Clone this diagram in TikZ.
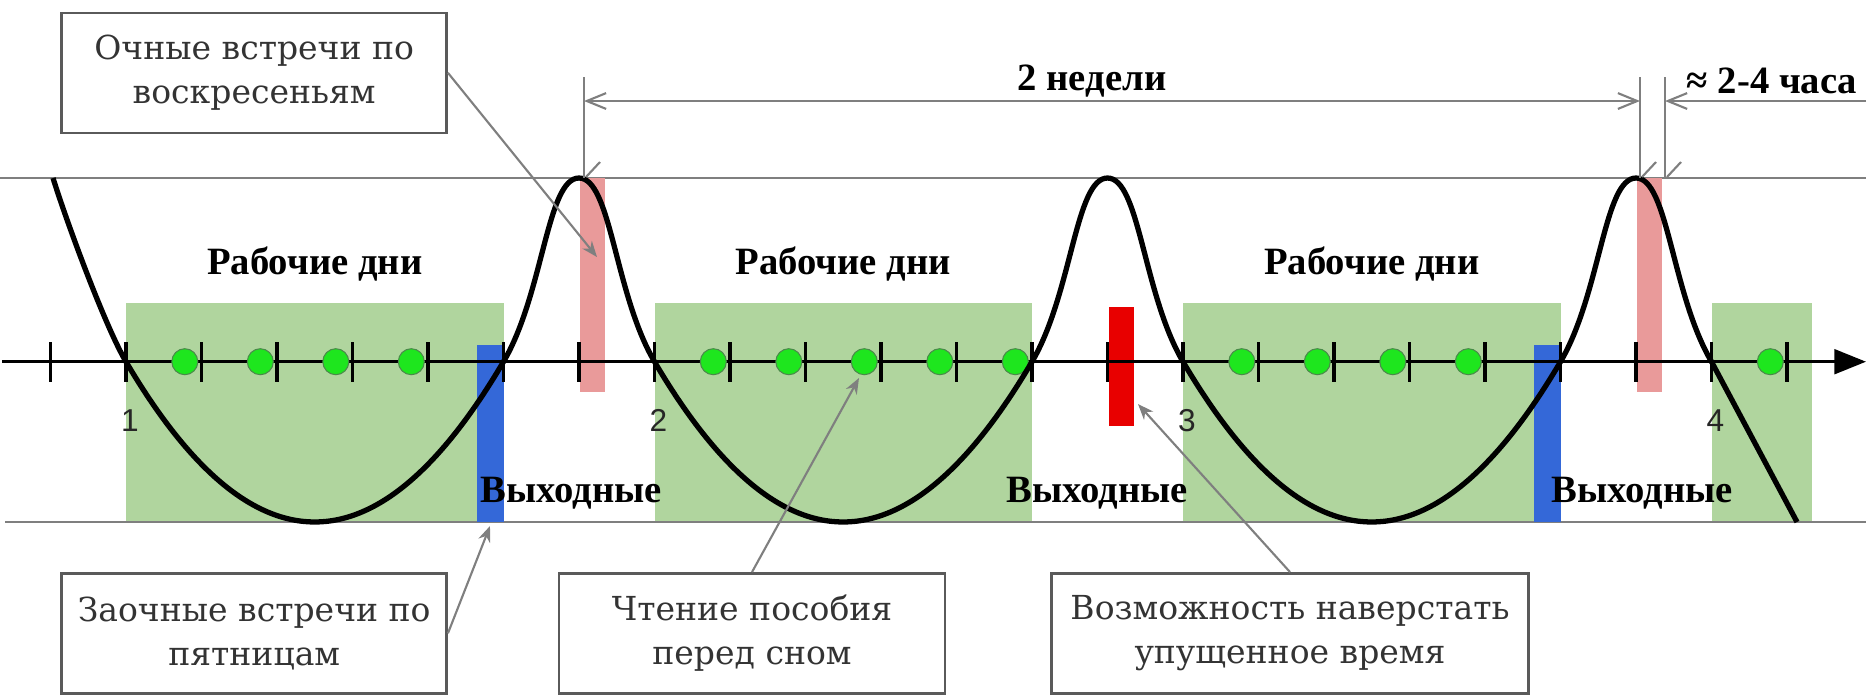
\documentclass[tikz,border=0pt]{standalone}
\usepackage{fontspec}
\setmainfont{Liberation Serif}
\setsansfont{Liberation Sans}
\newfontfamily\notefont{DejaVu Serif}
\usepackage{xcolor}
\usepackage{tikz}
\usetikzlibrary{arrows.meta, positioning, calc}
\definecolor{wkfill}{HTML}{B0D59E}
\definecolor{dotfill}{HTML}{1EE61E}
\definecolor{dotdraw}{HTML}{4A8A4A}
\definecolor{sunfill}{HTML}{E99A9A}
\definecolor{frifill}{HTML}{3468D8}
\definecolor{gapfill}{HTML}{E80000}
\definecolor{guide}{HTML}{7F7F7F}
\definecolor{boxdraw}{HTML}{5A5A5A}
\newcommand\dayo{126}
\newcommand\dayw{75.5}
\tikzset{
  note/.style={rectangle, draw=boxdraw, fill=white, line width=0.7pt, align=center, font=\notefont\fontsize{9.4}{12.6}\selectfont, text=black!80, minimum height=12mm, inner sep=2pt},
  lab/.style={font=\fontsize{11}{13}\selectfont\bfseries, anchor=base},
  num/.style={font=\sffamily\fontsize{9}{10}\selectfont, text=black!85, anchor=base},
  rail/.style={line width=0.6pt, draw=guide},
  dim/.style={rail, {Straight Barb[length=5.5pt,width=4.5pt]}-{Straight Barb[length=5.5pt,width=4.5pt]}},
  leader/.style={line width=0.6pt, draw=guide, -{Stealth[length=4.5pt,width=3.5pt]}},
  axisline/.style={line width=0.9pt, draw=black, -{Triangle[length=9pt,width=7pt]}},
  daytick/.style={line width=0.9pt, draw=black},
  daydot/.style={fill=dotfill, draw=dotdraw, line width=0.3pt},
  wave/.style={line width=1.5pt, draw=black, line join=round},
}

\begin{document}
\begin{tikzpicture}[x=0.1mm, y=-0.1mm]
  \useasboundingbox (0,0) rectangle (1872,697);
  \foreach \w in {0,7,14}
    \fill[wkfill] ({\dayo+\dayw*\w},303) rectangle ({\dayo+\dayw*(\w+5)},522);
  \fill[wkfill] ({\dayo+\dayw*21},303) rectangle (1812,522);
  \draw[rail] (0,178) -- (1866,178);
  \draw[rail] (5,522) -- (1866,522);
  \foreach \k in {6,20}
    \fill[sunfill] ({\dayo+\dayw*\k+1},178) rectangle +(25,214);
  \foreach \k in {5,19}
    \fill[frifill] ({\dayo+\dayw*\k-27},345) rectangle ({\dayo+\dayw*\k},522);
  \fill[gapfill] ({\dayo+\dayw*13+1},307) rectangle +(25,119);
  \draw[axisline] (2,361.7) -- (1866,361.7);
  \foreach \k in {-1,...,22}
    \draw[daytick] ({\dayo+\dayw*\k},342) -- +(0,40);
  \foreach \k in {1,2,3,4,8,9,10,11,12,15,16,17,18,22}
    \draw[daydot] ({\dayo+\dayw*\k-16.7},361.7) circle (1.3mm);
  \foreach \k/\t in {0/1,7/2,14/3,21/4}
    \node[num] (day\t) at ({\dayo+\dayw*\k+4},431) {\t};
  \draw[wave] (53,178) .. controls (68,226) and (106,328) .. ({\dayo},361.7)
    \foreach \w in {0,7,14} {
      .. controls ({\dayo+\dayw*\w+125.8},575.4) and ({\dayo+\dayw*(\w+5)-125.8},575.4) .. ({\dayo+\dayw*(\w+5)},361.7)
      .. controls ({\dayo+\dayw*(\w+5)+40},293.7) and ({\dayo+\dayw*(\w+6)-32},178) .. ({\dayo+\dayw*(\w+6)},178)
      .. controls ({\dayo+\dayw*(\w+6)+32},178) and ({\dayo+\dayw*(\w+7)-40},293.7) .. ({\dayo+\dayw*(\w+7)},361.7)
    } -- (1797,522);
  \foreach \k/\n in {2.5/a,9.5/b,16.5/c}
    \node[lab] (work\n) at ({\dayo+\dayw*\k},274) {Рабочие дни};
  \foreach \x/\n in {571/a,1097/b,1642/c}
    \node[lab] (rest\n) at (\x,502) {Выходные};
  \foreach \x/\n in {584/a,1640/b,1665/c} {
    \coordinate (ext\n) at (\x,77);
    \coordinate (foot\n) at (\x,178);
    \draw[rail] (ext\n) -- (foot\n);
    \draw[rail] ($(foot\n)+(16,-16)$) -- ($(foot\n)+(2,-1)$);
  }
  \coordinate (dima) at (584,101);
  \coordinate (dimb) at (1640,101);
  \coordinate (dimc) at (1665,101);
  \coordinate (dimd) at (1866,101);
  \draw[dim] (dima) -- (dimb);
  \draw[rail, -{Straight Barb[length=5.5pt,width=4.5pt]}] (dimd) -- (dimc);
  \node[lab] (twoweeks) at (1092,90) {2 недели};
  \node[lab] (hours) at (1772,93) {≈ 2-4 часа};
  \node[note, minimum width=38.5mm] (meet) at (254.2,72.8) {Очные встречи по\\воскресеньям};
  \node[note, minimum width=38.5mm] (call) at (254.2,633.3) {Заочные встречи по\\пятницам};
  \node[note, minimum width=38.6mm] (read) at (752,633.3) {Чтение пособия\\перед сном};
  \node[note, minimum width=47.7mm] (catch) at (1290,633.3) {Возможность наверстать\\упущенное время};
  \coordinate (sunpt) at (597,257);
  \coordinate (fript) at (490,526);
  \coordinate (dotpt) at (859,378);
  \coordinate (gappt) at (1138,404);
  \draw[leader] (meet.east) -- (sunpt);
  \draw[leader] (call.east) -- (fript);
  \draw[leader] (read.north) -- (dotpt);
  \draw[leader] (catch.north) -- (gappt);
\end{tikzpicture}
\end{document}
